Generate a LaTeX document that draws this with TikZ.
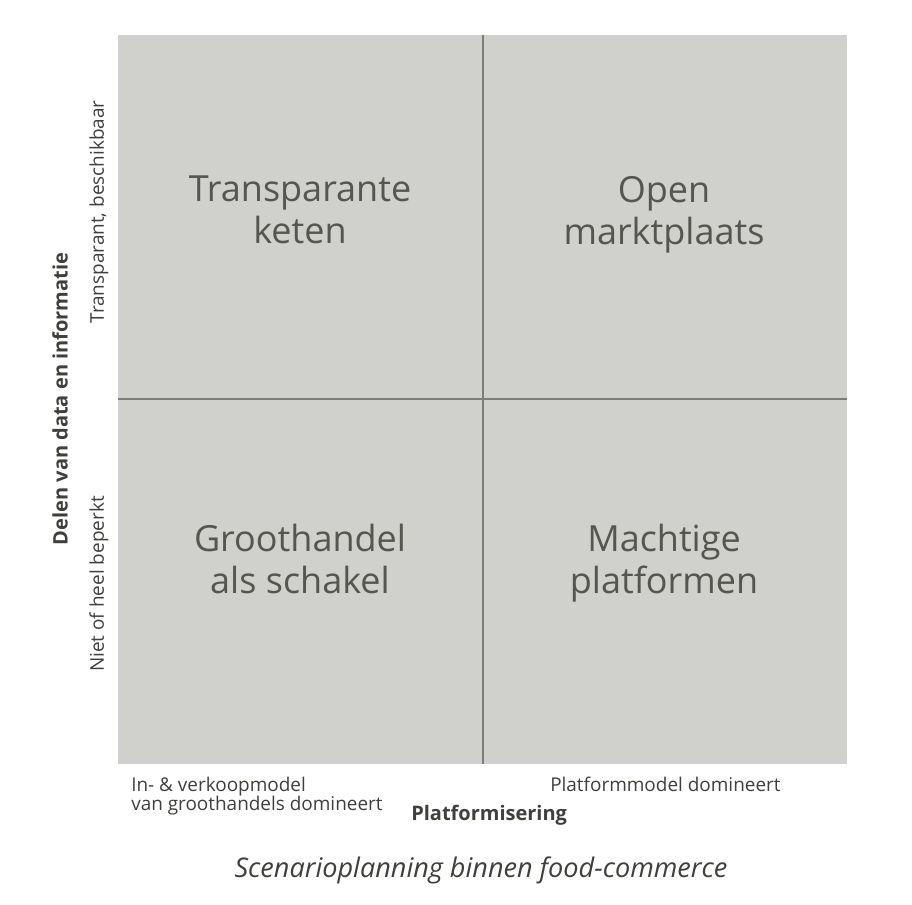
\documentclass[tikz,border=0pt]{standalone}
\usepackage{fontspec}
\setmainfont{Open Sans}
\definecolor{quadfill}{HTML}{D0D0CD}
\definecolor{gridline}{HTML}{7C7D76}
\definecolor{quadtext}{HTML}{54564F}
\definecolor{labeltext}{HTML}{3F403B}
\begin{document}
\begin{tikzpicture}[x=0.75pt,y=-0.75pt,
  quadlabel/.style={text=quadtext,font=\fontsize{27}{31.5}\selectfont,align=center,inner sep=0pt},
  axislabel/.style={text=labeltext,font=\fontsize{14.2}{14.5}\selectfont,inner sep=0pt},
  axistitle/.style={text=labeltext,font=\bfseries\fontsize{15}{18}\selectfont,inner sep=0pt},
  caption/.style={text=labeltext,font=\itshape\fontsize{20.3}{24}\selectfont,inner sep=0pt}]
\path[fill=white,use as bounding box] (0,0) rectangle (912,904);
\fill[quadfill] (118,35) rectangle (847,764);
\draw[gridline,line width=1.2pt] (483,35) -- (483,764);
\draw[gridline,line width=1.2pt] (118,399) -- (847,399);
\node[quadlabel,anchor=base] (tl) at (300,243) {Transparante\\keten};
\node[quadlabel,anchor=base] (tr) at (664,244) {Open\\marktplaats};
\node[quadlabel,anchor=base] (bl) at (300,593) {Groothandel\\als schakel};
\node[quadlabel,anchor=base] (br) at (664,593) {Machtige\\platformen};
\node[axistitle,rotate=90] (ytitle) at (60,399) {Delen van data en informatie};
\node[axislabel,rotate=90] (yhigh) at (99,212) {Transparant, beschikbaar};
\node[axislabel,rotate=90] (ylow) at (99,584) {Niet of heel beperkt};
\node[axislabel,anchor=base west] (xlow1) at (131,791) {In- \& verkoopmodel};
\node[axislabel,anchor=base west] (xlow2) at (131,810) {van groothandels domineert};
\node[axislabel,anchor=base west] (xhigh) at (550,791) {Platformmodel domineert};
\node[axistitle,anchor=base west] (xtitle) at (411,820) {Platformisering};
\node[caption,anchor=base] (cap) at (481,877) {Scenarioplanning binnen food-commerce};
\end{tikzpicture}
\end{document}
